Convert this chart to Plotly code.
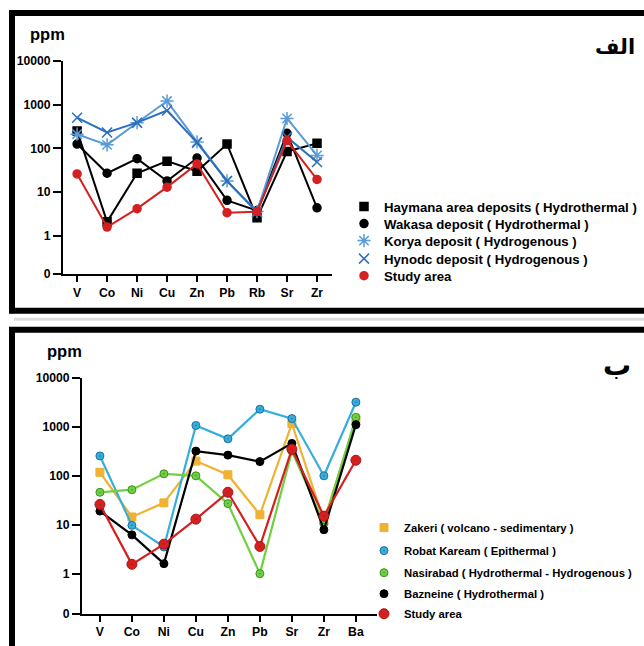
import plotly.graph_objects as go

W, H = 644, 646

# ---------------- data: panel "الف" ----------------
cats_a = ["V", "Co", "Ni", "Cu", "Zn", "Pb", "Rb", "Sr", "Zr"]
haymana = [250, 2.1, 27, 51, 30, 125, 2.6, 85, 130]
wakasa = [125, 27, 58, 18, 60, 6.5, 3.8, 220, 4.4]
korya = [210, 120, 385, 1200, 140, 18, 3.6, 480, 69]
hynodc = [500, 230, 385, 730, 135, 18, 3.5, 180, 49]
study_a = [26, 1.6, 4.2, 13, 44, 3.4, 3.6, 150, 19.5]

# ---------------- data: panel "ب" ----------------
cats_b = ["V", "Co", "Ni", "Cu", "Zn", "Pb", "Sr", "Zr", "Ba"]
zakeri = [118, 14.4, 28, 200, 105, 16, 1170, 12, 1400]
robat = [255, 9.7, 3.5, 1070, 570, 2300, 1480, 100, 3200]
nasirabad = [46, 52, 110, 100, 27, 1.0, 320, 10.6, 1570]
bazneine = [19, 6.2, 1.6, 320, 265, 195, 460, 7.9, 1110]
study_b = [26, 1.55, 4, 13, 46, 3.6, 350, 15, 208]

ytick_text = ["0", "1", "10", "100", "1000", "10000"]

FONT = "Liberation Sans, Arial, sans-serif"

def px(x):
    return x / W

def py(y):
    # vertical placement in page pixels (compensated for the capture's vertical mapping)
    return 1 - ((y - 7.4) / 0.9765) / H

fig = go.Figure()

series_a = [
    ("Haymana area deposits ( Hydrothermal )", haymana, "black", "square", 8),
    ("Wakasa deposit ( Hydrothermal )", wakasa, "black", "circle", 8),
    ("Korya deposit ( Hydrogenous )", korya, "#5a9ad6", "asterisk-open", 11),
    ("Hynodc deposit ( Hydrogenous )", hynodc, "#2c6fbb", "x-thin-open", 10),
    ("Study area", study_a, "#d42020", "circle", 8),
]
legend_rows_a = [207, 224, 241, 259, 276]
legend_rows_b = [527, 550, 572, 593, 613]

layout_legends = {}
for i, (name, vals, col, sym, sz) in enumerate(series_a):
    lg = "legend" if i == 0 else "legend%d" % (i + 1)
    fig.add_trace(go.Scatter(x=cats_a, y=vals, mode="lines", line=dict(color=col, width=2),
                             xaxis="x", yaxis="y", showlegend=False, hoverinfo="skip"))
    fig.add_trace(go.Scatter(x=cats_a, y=vals, mode="markers", name=name,
                             marker=dict(symbol=sym, size=sz, color=col,
                                         line=dict(color=col, width=1.5)),
                             xaxis="x", yaxis="y", legend=lg, cliponaxis=False))
    layout_legends[lg] = dict(x=px(344), y=py(legend_rows_a[i]), xanchor="left", yanchor="middle",
                              font=dict(family=FONT, size=13.2, color="black", weight="bold"),
                              bgcolor="rgba(0,0,0,0)", itemwidth=30)

series_b = [
    ("Zakeri ( volcano - sedimentary )", zakeri, "#f0b232", "#f0b232", "square", 8),
    ("Robat Kaream ( Epithermal )", robat, "#35aedc", "#1f6f9c", "circle-dot", 8),
    ("Nasirabad ( Hydrothermal - Hydrogenous )", nasirabad, "#6fd040", "#3f8f25", "circle-dot", 8),
    ("Bazneine ( Hydrothermal )", bazneine, "black", "black", "circle", 8),
    ("Study area", study_b, "#d42020", "#a81414", "circle-dot", 10),
]
for i, (name, vals, col, dcol, sym, sz) in enumerate(series_b):
    lg = "legend%d" % (i + 6)
    fig.add_trace(go.Scatter(x=cats_b, y=vals, mode="lines", line=dict(color=col, width=2.2),
                             xaxis="x2", yaxis="y2", showlegend=False, hoverinfo="skip"))
    fig.add_trace(go.Scatter(x=cats_b, y=vals, mode="markers", name=name,
                             marker=dict(symbol=sym, size=sz, color=col,
                                         line=dict(color=dcol, width=1)),
                             xaxis="x2", yaxis="y2", legend=lg, cliponaxis=False))
    layout_legends[lg] = dict(x=px(364), y=py(legend_rows_b[i]), xanchor="left", yanchor="middle",
                              font=dict(family=FONT, size=11.3, color="black", weight="bold"),
                              bgcolor="rgba(0,0,0,0)", itemwidth=30)

top_low = -0.87
bot_low = -0.82
tickvals_a = [10 ** top_low, 1, 10, 100, 1000, 10000]
tickvals_b = [10 ** bot_low, 1, 10, 100, 1000, 10000]

axis_common = dict(showgrid=False, zeroline=False, showline=True, linecolor="black",
                   linewidth=2, ticks="outside", tickcolor="black", tickwidth=2,
                   tickfont=dict(family=FONT, size=12.2, color="black", weight="bold"))

fig.update_layout(
    width=W, height=H, margin=dict(l=0, r=0, t=0, b=0),
    paper_bgcolor="white", plot_bgcolor="white",
    xaxis=dict(domain=[px(63), px(332)], anchor="y", type="category",
               range=[-0.47, 8.5], ticklen=6, **axis_common),
    yaxis=dict(domain=[py(274), py(61)], anchor="x", type="log",
               range=[top_low, 4], tickvals=tickvals_a, ticktext=ytick_text,
               ticklen=8, **axis_common),
    xaxis2=dict(domain=[px(82), px(377)], anchor="y2", type="category",
                range=[-0.56, 8.66], ticklen=6, **axis_common),
    yaxis2=dict(domain=[py(613), py(377.7)], anchor="x2", type="log",
                range=[bot_low, 4], tickvals=tickvals_b, ticktext=ytick_text,
                ticklen=8, **axis_common),
    showlegend=True,
    **layout_legends,
)

frame = dict(type="line", xref="paper", yref="paper", line=dict(color="black", width=6))
shapes = [
    dict(frame, x0=px(9), x1=1.01, y0=py(13.5), y1=py(13.5)),
    dict(frame, x0=px(12), x1=px(12), y0=py(11), y1=py(313)),
    dict(frame, x0=px(9), x1=1.01, y0=py(310.5), y1=py(310.5)),
    dict(type="line", xref="paper", yref="paper", x0=px(14), x1=1.01, y0=py(319), y1=py(319),
         line=dict(color="#dddddd", width=3)),
    dict(frame, x0=px(9), x1=1.01, y0=py(329.5), y1=py(329.5)),
    dict(frame, x0=px(12), x1=px(12), y0=py(327), y1=-0.05),
]
fig.update_layout(shapes=shapes)

ann = [
    dict(text="ppm", x=px(28), y=py(34), xanchor="left", yanchor="middle",
         font=dict(family=FONT, size=16.5, color="black", weight="bold")),
    dict(text="ppm", x=px(45), y=py(351), xanchor="left", yanchor="middle",
         font=dict(family=FONT, size=16.5, color="black", weight="bold")),
    dict(text="الف", x=px(637), y=py(47), xanchor="right", yanchor="middle",
         font=dict(family="DejaVu Sans", size=21, color="black", weight="bold")),
    dict(text="ب", x=px(633), y=py(365), xanchor="right", yanchor="middle",
         font=dict(family="DejaVu Sans", size=28, color="black", weight="bold")),
]
for a in ann:
    a.update(xref="paper", yref="paper", showarrow=False)
fig.update_layout(annotations=ann)

fig.write_html("out.html", config={"displayModeBar": False},
               post_script="document.body.style.margin='0';document.body.style.overflow='hidden';")
